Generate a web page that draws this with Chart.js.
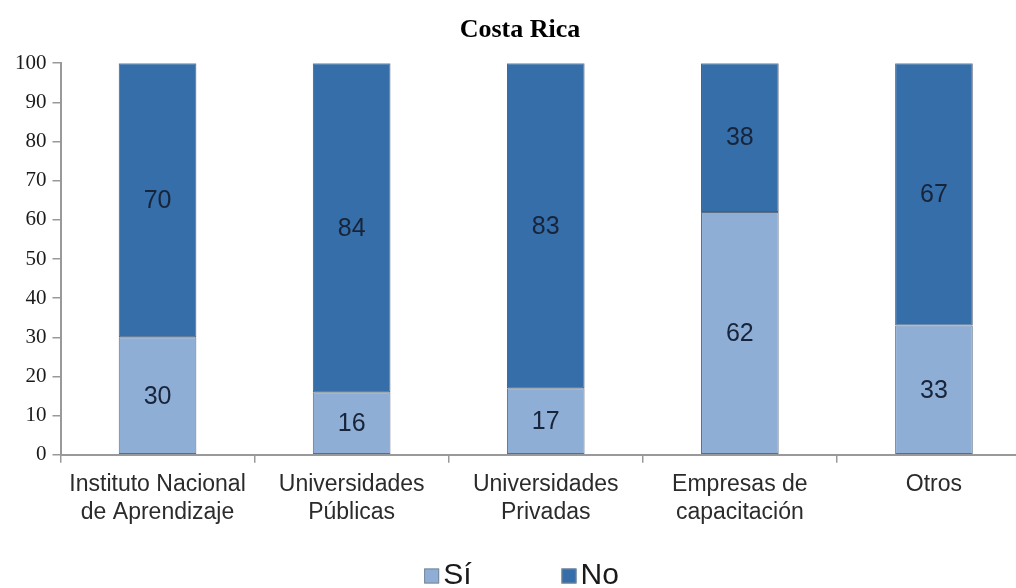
<!DOCTYPE html>
<html>
<head>
<meta charset="utf-8">
<script src="https://cdn.jsdelivr.net/npm/chart.js@4.4.0/dist/chart.umd.min.js"></script>
<style>
  html, body { margin: 0; padding: 0; background: #fff; overflow: hidden; }
  #wrap { width: 1035px; height: 588px; }
</style>
</head>
<body>
<div id="wrap"><canvas id="myChart"></canvas></div>
<script>
const categories = [
    ['Instituto Nacional', 'de Aprendizaje'],
    ['Universidades', 'Públicas'],
    ['Universidades', 'Privadas'],
    ['Empresas de', 'capacitación'],
    'Otros'
];
const siValues = [30, 16, 17, 62, 33];
const noValues = [70, 84, 83, 38, 67];
const yTicks = [0, 10, 20, 30, 40, 50, 60, 70, 80, 90, 100];

const sansFont = '"Liberation Sans", Arial, sans-serif';
const serifFont = '"Liberation Serif", "Times New Roman", serif';

// numbers inside each segment
const barLabels = {
    id: 'barLabels',
    afterDatasetsDraw(chart) {
        const c = chart.ctx;
        c.save();
        c.font = '25px ' + sansFont;
        c.fillStyle = '#17243a';
        c.textAlign = 'center';
        c.textBaseline = 'middle';
        chart.data.datasets.forEach((ds, i) => {
            chart.getDatasetMeta(i).data.forEach((bar, j) => {
                const p = bar.getProps(['x', 'y', 'base'], true);
                c.fillText(ds.data[j], p.x, (p.y + p.base) / 2 + 1);
            });
        });
        c.restore();
    }
};

// legend at the bottom, wide gap between the two items
const bottomLegend = {
    id: 'bottomLegend',
    afterDraw(chart) {
        const c = chart.ctx;
        const box = 15, boxGap = 4, itemGap = 90, y = 576;
        c.save();
        c.font = '30px ' + sansFont;
        c.textBaseline = 'middle';
        const items = chart.data.datasets.map(ds => ({
            text: ds.label, fill: ds.backgroundColor,
            w: box + boxGap + c.measureText(ds.label).width
        }));
        let total = items.reduce((s, it) => s + it.w, 0) + itemGap * (items.length - 1);
        let x = chart.width / 2 + 4 - total / 2;
        items.forEach(it => {
            c.fillStyle = it.fill;
            c.fillRect(x, y - box / 2, box, box);
            c.strokeStyle = '#7a8797';
            c.lineWidth = 1;
            c.strokeRect(x + 0.5, y - box / 2 + 0.5, box - 1, box - 1);
            c.fillStyle = '#1a1a1a';
            c.fillText(it.text, x + box + boxGap, y);
            x += it.w + itemGap;
        });
        c.restore();
    }
};

const ctx = document.getElementById('myChart');
const myChart = new Chart(ctx, {
    type: 'bar',
    data: {
        labels: categories,
        datasets: [
            {
                label: 'Sí',
                data: siValues,
                backgroundColor: '#8faed6',
                borderColor: '#5d6e84',
                borderWidth: 1,
                borderSkipped: false
            },
            {
                label: 'No',
                data: noValues,
                backgroundColor: '#356ea8',
                borderColor: '#4a5d74',
                borderWidth: 1,
                borderSkipped: false
            }
        ]
    },
    options: {
        maintainAspectRatio: false,
        responsive: true,
        animation: false,
        layout: { padding: { left: 9, right: 4, top: 0, bottom: 54 } },
        datasets: {
            bar: { categoryPercentage: 1, barPercentage: 0.4 }
        },
        scales: {
            x: {
                stacked: true,
                grid: { drawOnChartArea: false, offset: true, tickLength: 8, color: '#999', lineWidth: 1.5 },
                border: { color: '#999', width: 2 },
                ticks: {
                    color: '#2b2b2b',
                    font: { family: sansFont, size: 23, lineHeight: 1.2 },
                    padding: 8,
                    maxRotation: 0
                }
            },
            y: {
                stacked: true,
                min: 0,
                max: 100,
                afterBuildTicks: (axis) => { axis.ticks = yTicks.map(v => ({ value: v })); },
                grid: { drawOnChartArea: false, tickLength: 8, color: '#999', lineWidth: 1.5 },
                border: { color: '#999', width: 2 },
                ticks: {
                    color: '#1a1a1a',
                    font: { family: serifFont, size: 21 },
                    padding: 6
                }
            }
        },
        plugins: {
            title: {
                display: true,
                text: 'Costa Rica',
                color: '#000',
                font: { family: serifFont, size: 26, weight: 'bold' },
                padding: { top: 15, bottom: 17 }
            },
            legend: { display: false },
            tooltip: { enabled: false }
        }
    },
    plugins: [barLabels, bottomLegend]
});
</script>
</body>
</html>
